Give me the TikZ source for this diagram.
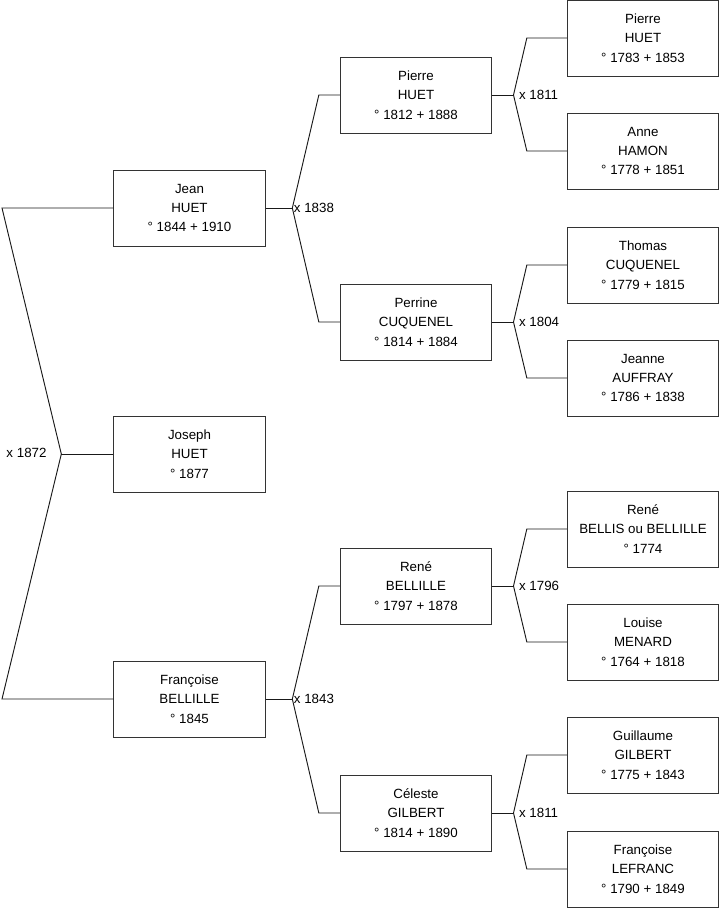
\documentclass[tikz,border=0pt]{standalone}
\usepackage{fontspec}
\setmainfont{Liberation Sans}
\usetikzlibrary{positioning}

\begin{document}
\begin{tikzpicture}[x=0.75pt, y=-0.75pt, font=\fontsize{10}{14.5}\selectfont,
  person/.style={draw=black!80, line width=0.75pt, minimum width=113.5pt, minimum height=57pt, inner sep=0pt, align=center},
  link/.style={draw=black!90, line width=0.7pt},
  year/.style={inner sep=1pt}]
  \useasboundingbox (0,0) rectangle (719,908);

  % Generation 1: the couple's children
  \node[person] (jean)      at (189.5,208) {Jean\\HUET\\° 1844 + 1910};
  \node[person] (joseph)    at (189.5,454) {Joseph\\HUET\\° 1877};
  \node[person] (francoise) at (189.5,699) {Françoise\\BELLILLE\\° 1845};

  % Generation 2: parents
  \node[person] (pierre)  at (416,95)  {Pierre\\HUET\\° 1812 + 1888};
  \node[person] (perrine) at (416,322) {Perrine\\CUQUENEL\\° 1814 + 1884};
  \node[person] (rene)    at (416,586) {René\\BELLILLE\\° 1797 + 1878};
  \node[person] (celeste) at (416,813) {Céleste\\GILBERT\\° 1814 + 1890};

  % Generation 3: grandparents
  \node[person] (hpierre)    at (643,38)  {Pierre\\HUET\\° 1783 + 1853};
  \node[person] (anne)       at (643,151) {Anne\\HAMON\\° 1778 + 1851};
  \node[person] (thomas)     at (643,265) {Thomas\\CUQUENEL\\° 1779 + 1815};
  \node[person] (jeanne)     at (643,378) {Jeanne\\AUFFRAY\\° 1786 + 1838};
  \node[person] (brene)      at (643,529) {René\\BELLIS ou BELLILLE\\° 1774};
  \node[person] (louise)     at (643,642) {Louise\\MENARD\\° 1764 + 1818};
  \node[person] (guillaume)  at (643,755) {Guillaume\\GILBERT\\° 1775 + 1843};
  \node[person] (lfrancoise) at (643,869) {Françoise\\LEFRANC\\° 1790 + 1849};

  % Marriage 1872: brackets on the left
  \coordinate (m1872) at ([xshift=-39pt]joseph.west);
  \coordinate (ltop) at (2,208);
  \coordinate (lbot) at (2,699);
  \draw[link] (jean.west) -- (ltop) -- (m1872) -- (lbot) -- (francoise.west);
  \draw[link] (m1872) -- (joseph.west);
  \node[year] (y1872) at (26.5,453) {x 1872};

  % Marriages of the parents
  \foreach \c/\f/\m/\yr in {jean/pierre/perrine/1838, francoise/rene/celeste/1843} {
    \coordinate (m\c) at ([xshift=20pt]\c.east);
    \draw[link] (\c.east) -- (m\c);
    \draw[link] (\f.west) -- ([xshift=-15.75pt]\f.west) -- (m\c) -- ([xshift=-15.75pt]\m.west) -- (\m.west);
    \node[right, year] (y\c) at (m\c) {x \yr};
  }

  % Marriages of the grandparents
  \foreach \c/\f/\m/\yr in {pierre/hpierre/anne/1811, perrine/thomas/jeanne/1804,
                            rene/brene/louise/1796, celeste/guillaume/lfrancoise/1811} {
    \coordinate (m\c) at ([xshift=16pt]\c.east);
    \draw[link] (\c.east) -- (m\c);
    \draw[link] (\f.west) -- ([xshift=-30pt]\f.west) -- (m\c) -- ([xshift=-30pt]\m.west) -- (\m.west);
    \node[right, year, inner sep=4pt] (y\c) at (m\c) {x \yr};
  }
\end{tikzpicture}
\end{document}
